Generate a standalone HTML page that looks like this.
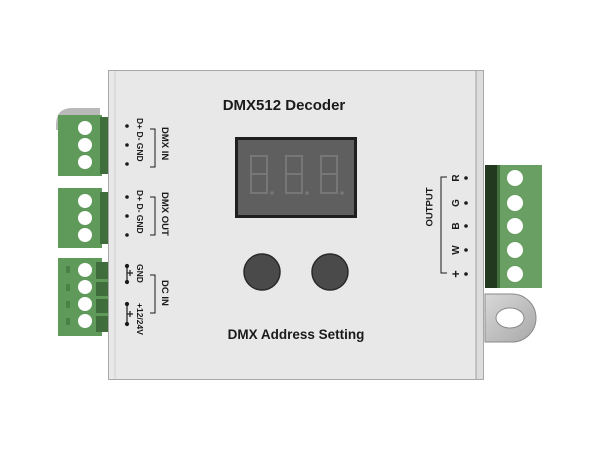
<!DOCTYPE html>
<html><head><meta charset="utf-8"><style>
html,body{margin:0;padding:0;background:#fff;}
svg{display:block}
text{font-family:"Liberation Sans",Arial,sans-serif;font-weight:bold;fill:#1a1a1a}
</style></head><body>
<svg width="600" height="450" viewBox="0 0 600 450" xmlns="http://www.w3.org/2000/svg">
<defs>
<linearGradient id="tab" x1="0" y1="0" x2="1" y2="1"><stop offset="0" stop-color="#d8d8d8"/><stop offset="1" stop-color="#a8a8a8"/></linearGradient>
</defs>
<path d="M56 125 Q56 108 72 108 L100 108 L100 130 L56 130 Z" fill="#b9b9b9"/>
<rect x="108" y="70" width="376" height="310" fill="#e8e8e8"/>
<rect x="476" y="70" width="8" height="310" fill="#dcdcdc"/>
<line x1="476" y1="70" x2="476" y2="380" stroke="#a0a0a0" stroke-width="1"/>
<rect x="108.5" y="70.5" width="375" height="309" fill="none" stroke="#a8a8a8"/>
<line x1="115" y1="71" x2="115" y2="379" stroke="#cfcfcf"/>

<g>
<rect x="58" y="115" width="44" height="61" fill="#5f9a5a"/>
<rect x="100" y="117" width="8" height="57" fill="#3f6d3c"/>
<circle cx="85" cy="128" r="7" fill="#fff"/><circle cx="85" cy="145" r="7" fill="#fff"/><circle cx="85" cy="162" r="7" fill="#fff"/>
<rect x="58" y="188" width="44" height="60" fill="#5f9a5a"/>
<rect x="100" y="192" width="8" height="52" fill="#3f6d3c"/>
<circle cx="85" cy="201" r="7" fill="#fff"/><circle cx="85" cy="218" r="7" fill="#fff"/><circle cx="85" cy="235" r="7" fill="#fff"/>
<rect x="58" y="258" width="44" height="78" fill="#5f9a5a"/>
<rect x="96" y="262" width="12" height="70" fill="#3f6d3c"/>
<rect x="96" y="279" width="12" height="3" fill="#5f9a5a"/><rect x="96" y="296" width="12" height="3" fill="#5f9a5a"/><rect x="96" y="313" width="12" height="3" fill="#5f9a5a"/>
<rect x="66" y="266" width="4" height="7" fill="#4b8046"/><rect x="66" y="284" width="4" height="7" fill="#4b8046"/><rect x="66" y="301" width="4" height="7" fill="#4b8046"/><rect x="66" y="318" width="4" height="7" fill="#4b8046"/>
<circle cx="85" cy="270" r="7" fill="#fff"/><circle cx="85" cy="287" r="7" fill="#fff"/><circle cx="85" cy="304" r="7" fill="#fff"/><circle cx="85" cy="321" r="7" fill="#fff"/>
</g>

<g fill="#1a1a1a">
<circle cx="127" cy="126" r="1.8"/><circle cx="127" cy="145" r="1.8"/><circle cx="127" cy="164" r="1.8"/>
<circle cx="127" cy="197" r="1.8"/><circle cx="127" cy="216" r="1.8"/><circle cx="127" cy="235" r="1.8"/>
</g>
<g stroke="#1a1a1a" stroke-width="1.2" fill="#1a1a1a">
<line x1="127" y1="266" x2="127" y2="282"/><line x1="127" y1="273" x2="133" y2="273"/><line x1="130" y1="270" x2="130" y2="276"/>
<circle cx="127" cy="266" r="1.5"/><circle cx="127" cy="282" r="1.5"/>
<line x1="127" y1="304" x2="127" y2="324"/><line x1="127" y1="314" x2="133" y2="314"/><line x1="130" y1="311" x2="130" y2="317"/>
<circle cx="127" cy="304" r="1.5"/><circle cx="127" cy="324" r="1.5"/>
</g>
<g fill="none" stroke="#1a1a1a" stroke-width="1">
<path d="M150 129 L155 129 L155 167 L150 167"/>
<path d="M150 197 L155 197 L155 235 L150 235"/>
<path d="M150 275 L155 275 L155 313 L150 313"/>
</g>
<g font-size="8.5">
<text transform="translate(137,118) rotate(90)">D+  D-  GND</text>
<text transform="translate(137,190) rotate(90)">D+  D-  GND</text>
<text transform="translate(137,264) rotate(90)">GND</text>
<text transform="translate(137,303) rotate(90)">+12/24V</text>
</g>
<g font-size="9.5">
<text transform="translate(162,127) rotate(90)">DMX IN</text>
<text transform="translate(162,192) rotate(90)">DMX OUT</text>
<text transform="translate(162,280) rotate(90)">DC IN</text>
</g>

<text x="284" y="110" font-size="15" text-anchor="middle">DMX512 Decoder</text>
<rect x="235" y="137" width="122" height="81" fill="#1f1f1f"/>
<rect x="238" y="140" width="116" height="75" fill="#5f5f5f"/>
<g fill="none" stroke="#777" stroke-width="2">
<path d="M251 156 h16 v18 h-16 z M251 174 v19 h16 v-19"/>
<path d="M286 156 h16 v18 h-16 z M286 174 v19 h16 v-19"/>
<path d="M321 156 h16 v18 h-16 z M321 174 v19 h16 v-19"/>
</g>
<g fill="#777"><circle cx="272" cy="193" r="1.8"/><circle cx="307" cy="193" r="1.8"/><circle cx="342" cy="193" r="1.8"/></g>
<circle cx="262" cy="272" r="18" fill="#4a4a4a" stroke="#2a2a2a" stroke-width="1.5"/>
<circle cx="330" cy="272" r="18" fill="#4a4a4a" stroke="#2a2a2a" stroke-width="1.5"/>
<text x="296" y="339" font-size="13.5" text-anchor="middle">DMX Address Setting</text>

<g fill="none" stroke="#1a1a1a" stroke-width="1"><path d="M447 177 L441 177 L441 273 L447 273"/></g>
<text transform="translate(430,207) rotate(-90)" font-size="9.5" text-anchor="middle" dominant-baseline="middle">OUTPUT</text>
<g font-size="10">
<text transform="translate(459,178) rotate(-90)" text-anchor="middle">R</text>
<text transform="translate(459,203) rotate(-90)" text-anchor="middle">G</text>
<text transform="translate(459,226) rotate(-90)" text-anchor="middle">B</text>
<text transform="translate(459,250) rotate(-90)" text-anchor="middle">W</text>
<text transform="translate(460,274) rotate(-90)" text-anchor="middle" font-size="13">+</text>
</g>
<g fill="#1a1a1a">
<circle cx="466" cy="178" r="1.8"/><circle cx="466" cy="203" r="1.8"/><circle cx="466" cy="226" r="1.8"/><circle cx="466" cy="250" r="1.8"/><circle cx="466" cy="274" r="1.8"/>
</g>

<rect x="485" y="165" width="57" height="123" fill="#6a9f63"/>
<rect x="485" y="165" width="12" height="123" fill="#22391f"/>
<rect x="497" y="165" width="3" height="123" fill="#3f6d3c"/>
<g fill="#fff">
<circle cx="515" cy="178" r="8"/><circle cx="515" cy="203" r="8"/><circle cx="515" cy="226" r="8"/><circle cx="515" cy="250" r="8"/><circle cx="515" cy="274" r="8"/>
</g>
<path d="M485 294 L512 294 A24 24 0 0 1 512 342 L485 342 Z" fill="url(#tab)" stroke="#8a8a8a" stroke-width="1"/>
<ellipse cx="510" cy="318" rx="14" ry="10" fill="#fff" stroke="#8a8a8a"/>
</svg>
</body></html>
